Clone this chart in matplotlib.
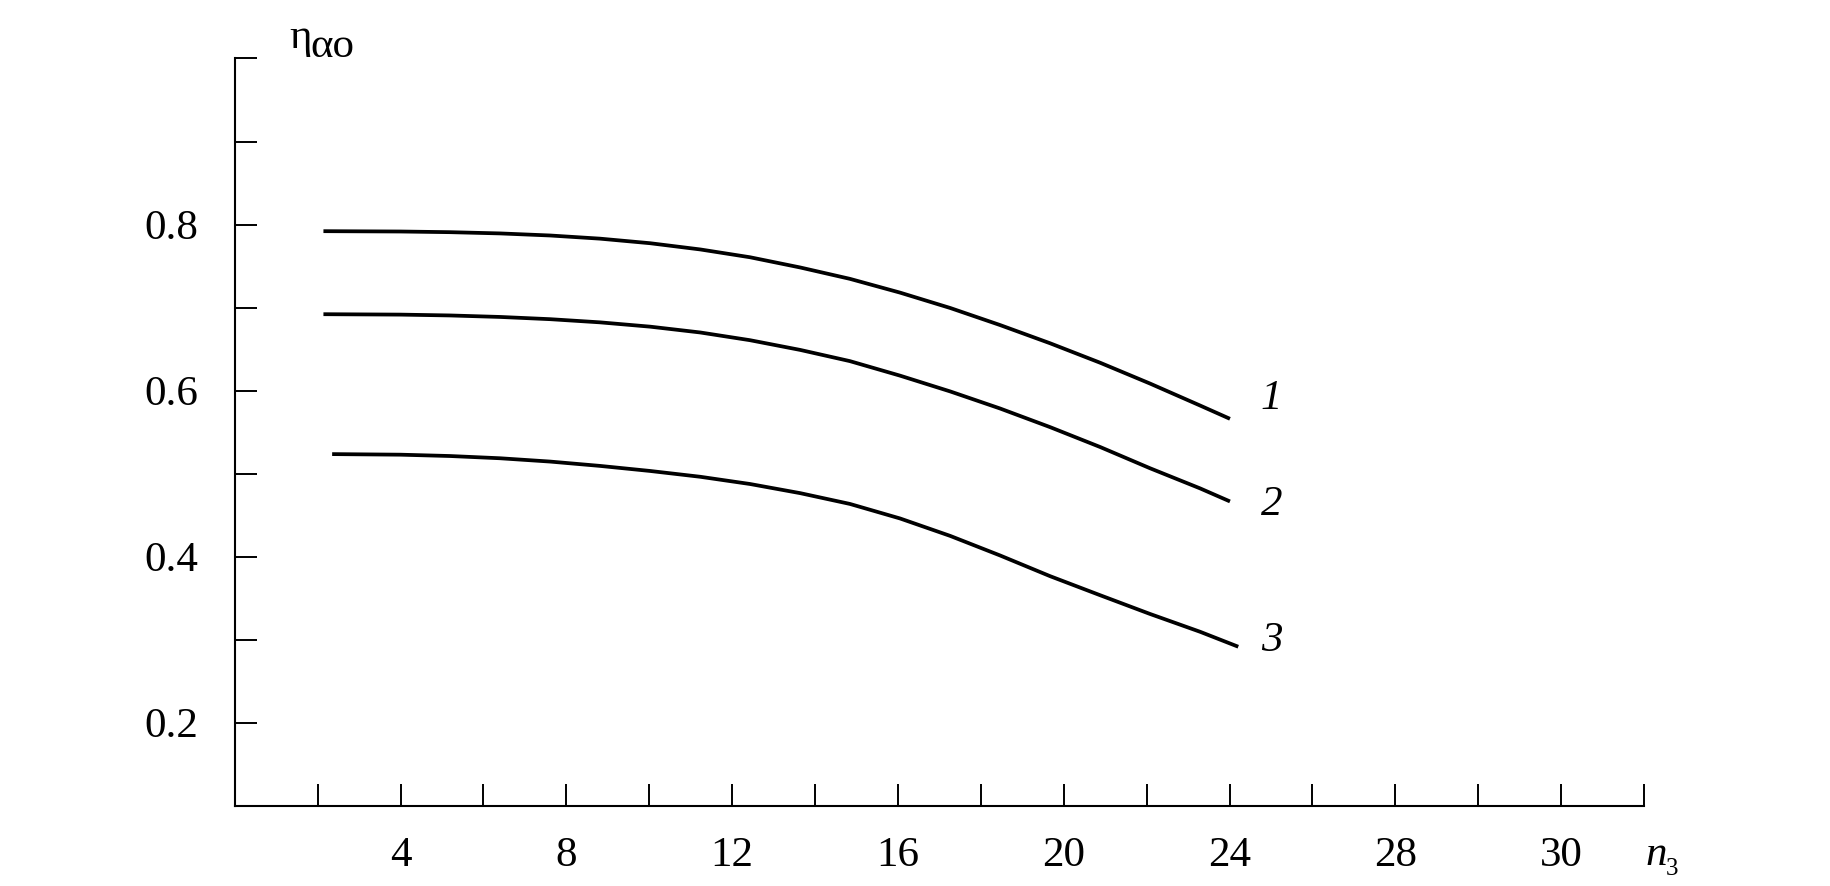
import matplotlib
matplotlib.use("Agg")
import matplotlib.pyplot as plt

# ---- data ----
x1 = [2.14, 4.0, 5.19, 6.40, 7.61, 8.81, 10.02, 11.23, 12.43, 13.64, 14.84,
      16.05, 17.26, 18.46, 19.67, 20.88, 22.08, 23.29, 24.01]
y1 = [0.792, 0.7916, 0.7908, 0.7893, 0.7868, 0.7830, 0.7775, 0.7700, 0.7606, 0.7483, 0.7346,
      0.7180, 0.6995, 0.6790, 0.6570, 0.6335, 0.6085, 0.5820, 0.5660]
x2 = [2.14, 4.0, 5.19, 6.40, 7.61, 8.81, 10.02, 11.23, 12.43, 13.64, 14.84,
      16.05, 17.26, 18.46, 19.67, 20.88, 22.08, 23.29, 24.01]
y2 = [0.692, 0.6915, 0.6905, 0.6887, 0.6860, 0.6822, 0.6770, 0.6700, 0.6607, 0.6490, 0.6355,
      0.6180, 0.5990, 0.5785, 0.5560, 0.5320, 0.5065, 0.4822, 0.4665]
x3 = [2.35, 4.0, 5.19, 6.40, 7.61, 8.81, 10.02, 11.23, 12.43, 13.64, 14.84,
      16.05, 17.26, 18.46, 19.67, 20.88, 22.08, 23.29, 24.21]
y3 = [0.5235, 0.5228, 0.5212, 0.5185, 0.5145, 0.5093, 0.5032, 0.4962, 0.4875, 0.4765, 0.4635,
      0.4460, 0.4250, 0.4015, 0.3765, 0.3535, 0.3310, 0.3095, 0.2915]
curve_labels = ["1", "2", "3"]
label_pos = [(24.75, 0.590), (24.75, 0.4625), (24.75, 0.2985)]

x_ticks = [2, 4, 6, 8, 10, 12, 14, 16, 18, 20, 22, 24, 26, 28, 30, 32, 34]
x_ticklabels = ["", "4", "", "8", "", "12", "", "16", "", "20", "", "24", "", "28", "", "30", ""]
y_ticks = [0.2, 0.3, 0.4, 0.5, 0.6, 0.7, 0.8, 0.9, 1.0]
y_ticklabels = ["0.2", "", "0.4", "", "0.6", "", "0.8", "", ""]

plt.rcParams['font.family'] = ['Liberation Serif', 'DejaVu Serif']

fig = plt.figure(figsize=(18.31, 8.86), dpi=100)
ax = fig.add_axes([0.1282, 0.0906, 0.8979 - 0.1282, 0.934 - 0.0906])

for xs, ys in [(x1, y1), (x2, y2), (x3, y3)]:
    ax.plot(xs, ys, color='black', lw=2.7, solid_capstyle='butt', solid_joinstyle='round')

for lab, (lx, ly) in zip(curve_labels, label_pos):
    ax.text(lx, ly, lab, fontsize=31, style='italic', ha='left', va='center')

ax.set_xlim(0, 34)
ax.set_ylim(0.1, 1.0)
ax.set_xticks(x_ticks)
ax.set_xticklabels(x_ticklabels)
ax.set_yticks(y_ticks)
ax.set_yticklabels(y_ticklabels)
ax.tick_params(direction='in', length=16, width=1.4, labelsize=31)
ax.tick_params(axis='x', pad=22)
ax.tick_params(axis='y', pad=26)

for s in ['top', 'right']:
    ax.spines[s].set_visible(False)
for s in ['left', 'bottom']:
    ax.spines[s].set_linewidth(1.5)

# axis labels
ax.text(0.039, 1.0135, "η", transform=ax.transAxes, fontsize=31, ha='left', va='baseline')
ax.text(0.0535, 1.0023, "αο", transform=ax.transAxes, fontsize=31, ha='left', va='baseline')
ax.text(1.0007, -0.0794, "n", transform=ax.transAxes, fontsize=31, style='italic', ha='left', va='baseline')
ax.text(1.0155, -0.0925, "3", transform=ax.transAxes, fontsize=18, ha='left', va='baseline')

fig.savefig("out.png", dpi=100)
